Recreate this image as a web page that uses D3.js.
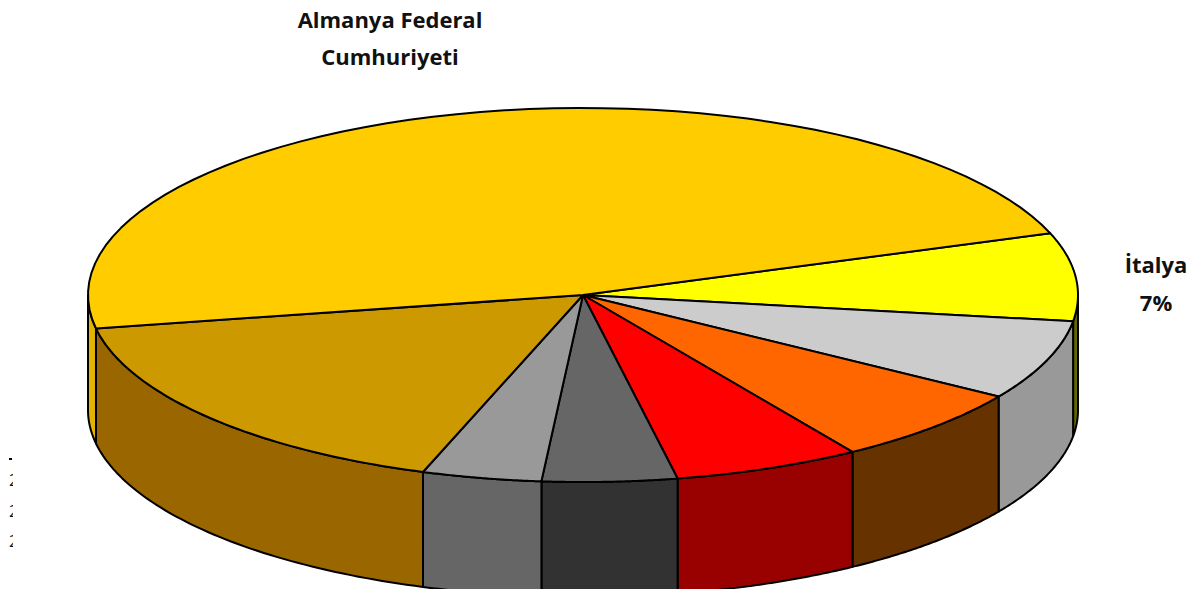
<!DOCTYPE html>
<html>
<head>
<meta charset="utf-8">
<script src="https://cdn.jsdelivr.net/npm/d3@7"></script>
<style>
  html, body { margin: 0; padding: 0; background: #fff; overflow: hidden; }
  text { font-family: "Open Sans", "Noto Sans", sans-serif; font-weight: 700; fill: #111; }
</style>
</head>
<body>
<script>
const categories = ["İtalya", "Diğer 1", "Diğer 2", "Diğer 3", "Diğer 4", "Diğer 5", "Diğer 6", "Almanya Federal Cumhuriyeti"];
const shares = [7.6, 6.9, 6.7, 6.1, 4.4, 3.9, 16.9, 47.5];
const topColors = ["#ffff00", "#cccccc", "#ff6600", "#ff0000", "#666666", "#999999", "#cc9900", "#ffcc00"];
const sideColors = ["#666600", "#999999", "#663300", "#990000", "#333333", "#666666", "#996600", "#e0b400"];
const axisFragments = ["2", "2", "2"];

const width = 1195, height = 589;
const startAngle = 70.7 * Math.PI / 180;
const depth = 115;

const svg = d3.select("body").append("svg")
  .attr("width", width)
  .attr("height", height);

const defs = svg.append("defs");
defs.append("filter").attr("id", "soft")
  .append("feGaussianBlur").attr("stdDeviation", 0.6);
defs.append("clipPath").attr("id", "edge")
  .append("rect").attr("x", 0).attr("y", 450).attr("width", 13).attr("height", 110);

//Unit circle to page, the pie is squashed so it looks tilted
const x = d3.scaleLinear().domain([-1, 1]).range([88, 1078]);
const y = d3.scaleLinear().domain([-1, 1]).range([108, 482]);

const pie = d3.pie()
  .sort(null)
  .startAngle(startAngle)
  .endAngle(startAngle + 2 * Math.PI);
const slices = pie(shares);

const line = d3.line();
const rim = (a) => [x(Math.sin(a)), y(-Math.cos(a))];

//All of the points along the outer edge of a slice
const rimPoints = (d, from, to) => {
  const a0 = from === undefined ? d.startAngle : from;
  const a1 = to === undefined ? d.endAngle : to;
  return d3.range(0, 61).map((i) => rim(a0 + (a1 - a0) * i / 60));
};

const chart = svg.append("g").attr("filter", "url(#soft)");

//Side walls, only the part that faces front (rim below the middle line)
const wallParts = [];
slices.forEach((d, i) => {
  for (let k = 0; k < 2; k++) {
    const from = Math.max(d.startAngle, Math.PI / 2 + k * 2 * Math.PI);
    const to = Math.min(d.endAngle, 3 * Math.PI / 2 + k * 2 * Math.PI);
    if (from < to) wallParts.push({i: i, from: from, to: to});
  }
});

chart.append("g")
  .selectAll("path")
  .data(wallParts)
  .enter()
  .append("path")
    .attr("d", (w) => {
      const upper = rimPoints(null, w.from, w.to);
      const lower = upper.map((p) => [p[0], p[1] + depth]).reverse();
      return line(upper.concat(lower)) + "Z";
    })
    .attr("fill", (w) => sideColors[w.i])
    .attr("stroke", "#000")
    .attr("stroke-width", 2)
    .attr("stroke-linejoin", "round");

//Top faces
chart.append("g")
  .selectAll("path")
  .data(slices)
  .enter()
  .append("path")
    .attr("d", (d) => line([[x(0), y(0)]].concat(rimPoints(d))) + "Z")
    .attr("fill", (d, i) => topColors[i])
    .attr("stroke", "#000")
    .attr("stroke-width", 2)
    .attr("stroke-linejoin", "round");

//Labels
const label = (txt, px, py) => svg.append("text")
  .attr("x", px)
  .attr("y", py)
  .attr("text-anchor", "middle")
  .attr("font-size", "22px")
  .text(txt);

label("Almanya Federal", 390, 28);
label("Cumhuriyeti", 390, 65);
label(categories[0], 1156, 273);
label("7%", 1156, 311);

//Clipped remains of a legend at the left edge
const stubs = svg.append("g").attr("clip-path", "url(#edge)");
stubs.append("rect")
  .attr("x", 9).attr("y", 458).attr("width", 3).attr("height", 2).attr("fill", "#000");
stubs.selectAll("text")
  .data(axisFragments)
  .enter()
  .append("text")
    .attr("x", 9)
    .attr("y", (d, i) => [486, 517, 547][i])
    .attr("font-size", "16px")
    .style("font-weight", 400)
    .text((d) => d);
</script>
</body>
</html>
